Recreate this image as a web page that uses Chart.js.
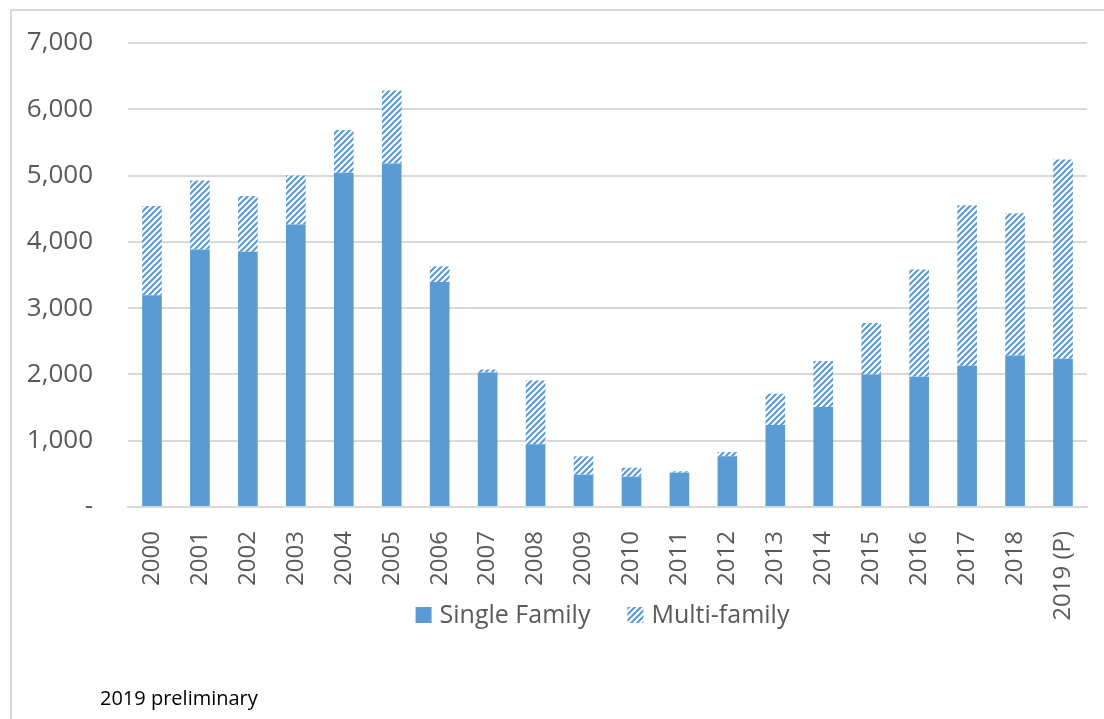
<!DOCTYPE html>
<html>
<head>
<meta charset="utf-8">
<script src="https://cdn.jsdelivr.net/npm/chart.js@4/dist/chart.umd.min.js"></script>
<style>
  html, body { margin: 0; padding: 0; background: #fff; }
  body { width: 1104px; height: 719px; position: relative; overflow: hidden; font-family: "Open Sans", sans-serif; }
  .frame { position: absolute; left: 10px; top: 9px; right: -10px; bottom: -10px; border-left: 2px solid #d9d9d9; border-top: 2px solid #d9d9d9; }
  .wrap { position: absolute; left: 0; top: 0; width: 1104px; height: 719px; }
  .note { position: absolute; left: 100px; top: 684px; font-size: 20px; color: #000; }
</style>
</head>
<body>
<div class="frame"></div>
<div class="wrap"><canvas id="permitChart" width="1104" height="719"></canvas></div>
<div class="note">2019 preliminary</div>

<script>
// Housing units permitted by type, 2000-2019 (P)
const YEARS = ["2000", "2001", "2002", "2003", "2004", "2005", "2006", "2007", "2008", "2009",
  "2010", "2011", "2012", "2013", "2014", "2015", "2016", "2017", "2018", "2019 (P)"];
const SINGLE_FAMILY = [3195, 3886, 3850, 4263, 5041, 5182, 3394, 2030, 945, 487,
  457, 518, 764, 1236, 1508, 2000, 1965, 2131, 2286, 2236];
const MULTI_FAMILY = [1345, 1040, 840, 738, 648, 1100, 236, 45, 965, 277,
  136, 20, 65, 473, 693, 774, 1618, 2422, 2146, 3005];
const Y_MAX = 7000;
const Y_STEP = 1000;

const BLUE = "#5b9bd5";
const TEXT = "#595959";
const GRID = "#d9d9d9";
const FONT = "Open Sans";

// wide upward diagonal hatch, like the Excel fill
function makeHatch() {
  const size = 6;
  const c = document.createElement("canvas");
  c.width = size;
  c.height = size;
  const g = c.getContext("2d");
  g.fillStyle = "#fff";
  g.fillRect(0, 0, size, size);
  g.strokeStyle = BLUE;
  g.lineWidth = 2.2;
  g.beginPath();
  g.moveTo(-1, size + 1); g.lineTo(size + 1, -1);
  g.moveTo(-1, 1); g.lineTo(1, -1);
  g.moveTo(size - 1, size + 1); g.lineTo(size + 1, size - 1);
  g.stroke();
  return g.createPattern(c, "repeat");
}

// legend sits beside the long last x label, so draw it by hand under the plot
const bottomLegend = {
  id: "bottomLegend",
  afterDraw(chart) {
    const c = chart.ctx;
    const box = 16, gapText = 8, gapItem = 37, yMid = 615;
    c.save();
    c.font = `25px "${FONT}"`;
    c.textBaseline = "middle";
    const items = chart.data.datasets.map((d) => ({ label: d.label, fill: d.backgroundColor, w: c.measureText(d.label).width }));
    const total = items.reduce((a, it) => a + box + gapText + it.w, 0) + gapItem * (items.length - 1);
    let x = (chart.chartArea.left + chart.chartArea.right) / 2 - 5 - total / 2;
    items.forEach((it) => {
      c.fillStyle = it.fill;
      c.fillRect(x, yMid - box / 2, box, box);
      c.fillStyle = TEXT;
      c.fillText(it.label, x + box + gapText, yMid + 1);
      x += box + gapText + it.w + gapItem;
    });
    c.restore();
  },
};

const ctx = document.getElementById("permitChart").getContext("2d");
const hatch = makeHatch();

new Chart(ctx, {
  type: "bar",
  data: {
    labels: YEARS,
    datasets: [
      { label: "Single Family", data: SINGLE_FAMILY, backgroundColor: BLUE, borderWidth: 0 },
      { label: "Multi-family", data: MULTI_FAMILY, backgroundColor: hatch, borderWidth: 0 },
    ],
  },
  options: {
    responsive: false,
    animation: false,
    layout: { padding: { top: 43, right: 17, bottom: 87, left: 0 } },
    datasets: { bar: { barPercentage: 0.41, categoryPercentage: 1 } },
    plugins: {
      tooltip: { enabled: false },
      legend: { display: false },
    },
    scales: {
      x: {
        stacked: true,
        grid: { display: false },
        border: { display: true, color: GRID, width: 2 },
        ticks: {
          color: TEXT,
          font: { family: FONT, size: 24 },
          maxRotation: 90,
          minRotation: 90,
          autoSkip: false,
          padding: 16,
        },
        afterFit: (s) => { s.height = 125; s.paddingLeft = 0; s.paddingRight = 0; },
      },
      y: {
        stacked: true,
        min: 0,
        max: Y_MAX,
        grid: { color: GRID, lineWidth: 2, drawTicks: false },
        border: { display: false },
        ticks: {
          stepSize: Y_STEP,
          color: TEXT,
          font: { family: FONT, size: 26 },
          padding: 35,
          callback: (v) => (v === 0 ? "-" : v.toLocaleString("en-US")),
        },
        afterFit: (s) => { s.width = 128; s.paddingTop = 0; s.paddingBottom = 0; },
      },
    },
  },
  plugins: [bottomLegend],
});
</script>
</body>
</html>
